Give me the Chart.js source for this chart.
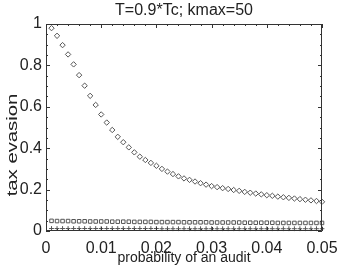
<!DOCTYPE html>
<html>
<head>
<meta charset="utf-8">
<script src="https://cdn.jsdelivr.net/npm/chart.js@4.4.1/dist/chart.umd.min.js"></script>
<style>
  html, body { margin: 0; padding: 0; background: #fff; }
  canvas { display: block; }
</style>
</head>
<body>
<canvas id="grafico" width="354" height="267"></canvas>
<script>
// probability of an audit (x)
const audit = [0.001, 0.002, 0.003, 0.004, 0.005, 0.006, 0.007, 0.008, 0.009, 0.010,
               0.011, 0.012, 0.013, 0.014, 0.015, 0.016, 0.017, 0.018, 0.019, 0.020,
               0.021, 0.022, 0.023, 0.024, 0.025, 0.026, 0.027, 0.028, 0.029, 0.030,
               0.031, 0.032, 0.033, 0.034, 0.035, 0.036, 0.037, 0.038, 0.039, 0.040,
               0.041, 0.042, 0.043, 0.044, 0.045, 0.046, 0.047, 0.048, 0.049, 0.050];

// tax evasion, diamonds
const evasionRombos = [0.980, 0.943, 0.898, 0.853, 0.805, 0.753, 0.702, 0.653, 0.609, 0.563,
                       0.524, 0.488, 0.455, 0.429, 0.404, 0.380, 0.359, 0.343, 0.329, 0.315,
                       0.300, 0.287, 0.275, 0.264, 0.254, 0.247, 0.239, 0.231, 0.224, 0.217,
                       0.212, 0.207, 0.203, 0.198, 0.194, 0.189, 0.185, 0.181, 0.177, 0.173,
                       0.170, 0.166, 0.163, 0.160, 0.157, 0.154, 0.151, 0.148, 0.145, 0.141];

// tax evasion, squares
const evasionCuadros = [0.049, 0.048, 0.048, 0.048, 0.047, 0.047, 0.047, 0.046, 0.046, 0.046,
                        0.046, 0.045, 0.045, 0.045, 0.045, 0.044, 0.044, 0.044, 0.044, 0.043,
                        0.043, 0.043, 0.043, 0.043, 0.042, 0.042, 0.042, 0.042, 0.042, 0.041,
                        0.041, 0.041, 0.041, 0.041, 0.041, 0.040, 0.040, 0.040, 0.040, 0.040,
                        0.040, 0.039, 0.039, 0.039, 0.039, 0.039, 0.039, 0.039, 0.039, 0.039];

// tax evasion, pluses
const evasionCruces = [0.012, 0.012, 0.012, 0.012, 0.012, 0.012, 0.012, 0.012, 0.012, 0.012,
                       0.012, 0.012, 0.012, 0.012, 0.012, 0.012, 0.012, 0.012, 0.012, 0.012,
                       0.011, 0.011, 0.011, 0.011, 0.011, 0.011, 0.011, 0.011, 0.011, 0.011,
                       0.011, 0.011, 0.011, 0.011, 0.011, 0.011, 0.011, 0.011, 0.011, 0.011,
                       0.011, 0.011, 0.011, 0.011, 0.011, 0.011, 0.011, 0.011, 0.011, 0.011];

const xTicks = [0, 0.01, 0.02, 0.03, 0.04, 0.05];
const yTicks = [0, 0.2, 0.4, 0.6, 0.8, 1];

const titulo = "T=0.9*Tc; kmax=50";
const tituloX = "probability of an audit";
const tituloY = "tax evasion";

const fuente = '"Liberation Sans", Arial, Helvetica, sans-serif';
const tinta = "#222";
const marca = "#555";

const puntos = (ys) => audit.map((x, i) => ({ x: x, y: ys[i] }));

// Marco con marcas hacia dentro y titulo del eje y
const marcoPlugin = {
    id: "marco",
    afterDraw(chart) {
        const ctx = chart.ctx;
        const a = chart.chartArea;
        const sx = chart.scales.x;
        const sy = chart.scales.y;
        ctx.save();
        ctx.strokeStyle = "#333";
        ctx.lineWidth = 1;
        ctx.beginPath();
        ctx.rect(a.left + 0.5, a.top + 0.5, a.right - a.left - 1, a.bottom - a.top - 1);
        ctx.stroke();

        ctx.beginPath();
        for (let i = 0; i <= 25; i++) {
            const px = Math.round(sx.getPixelForValue(i * 0.002)) + 0.5;
            const len = (i % 5 === 0) ? 4 : 2;
            ctx.moveTo(px, a.bottom);
            ctx.lineTo(px, a.bottom - len);
            ctx.moveTo(px, a.top);
            ctx.lineTo(px, a.top + len);
        }
        for (let i = 0; i <= 20; i++) {
            const py = Math.round(sy.getPixelForValue(i * 0.05)) + 0.5;
            const len = (i % 4 === 0) ? 4 : 2;
            ctx.moveTo(a.left, py);
            ctx.lineTo(a.left + len, py);
            ctx.moveTo(a.right, py);
            ctx.lineTo(a.right - len, py);
        }
        ctx.stroke();

        // el titulo del eje y del original sale estirado a lo largo
        ctx.fillStyle = tinta;
        ctx.textAlign = "center";
        ctx.textBaseline = "middle";
        ctx.translate(13, 145);
        ctx.rotate(-Math.PI / 2);
        ctx.scale(1.45, 1);
        ctx.font = "14px " + fuente;
        ctx.fillText(tituloY, 0, 0);
        ctx.restore();
    }
};

const comun = {
    showLine: false,
    backgroundColor: "rgba(0,0,0,0)",
    borderColor: marca,
    pointBorderWidth: 1,
    pointHoverRadius: 0,
    clip: false
};

new Chart(document.getElementById("grafico").getContext("2d"), {
    type: "scatter",
    data: {
        datasets: [
            Object.assign({ label: "rombos", data: puntos(evasionRombos), pointStyle: "rectRot", pointRadius: 2.7 }, comun),
            Object.assign({ label: "cuadros", data: puntos(evasionCuadros), pointStyle: "rect", pointRadius: 2.5 }, comun),
            Object.assign({ label: "cruces", data: puntos(evasionCruces), pointStyle: "cross", pointRadius: 2.4 }, comun)
        ]
    },
    options: {
        responsive: false,
        devicePixelRatio: 1,
        animation: false,
        events: [],
        layout: { padding: { left: 0, right: 32, top: 0, bottom: 0 } },
        plugins: {
            legend: { display: false },
            title: {
                display: true,
                text: titulo,
                fullSize: false,
                color: tinta,
                font: { family: fuente, size: 16, weight: "normal", lineHeight: 1.2 },
                padding: { top: 1, bottom: 3.8 }
            },
            tooltip: { enabled: false }
        },
        scales: {
            x: {
                type: "linear",
                min: 0,
                max: 0.05,
                afterBuildTicks: (s) => { s.ticks = xTicks.map(v => ({ value: v })); },
                afterFit: (s) => { s.height = 36; },
                grid: { display: false, drawTicks: false },
                border: { display: false },
                ticks: {
                    autoSkip: false,
                    maxRotation: 0,
                    padding: 8,
                    color: tinta,
                    font: { family: fuente, size: 16 },
                    callback: (v) => String(Math.round(v * 100) / 100)
                },
                title: {
                    display: true,
                    text: tituloX,
                    color: tinta,
                    font: { family: fuente, size: 14 },
                    padding: { top: -2, bottom: 0 }
                }
            },
            y: {
                type: "linear",
                min: 0,
                max: 1,
                afterBuildTicks: (s) => { s.ticks = yTicks.map(v => ({ value: v })); },
                afterFit: (s) => { s.width = 46; },
                grid: { display: false, drawTicks: false },
                border: { display: false },
                ticks: {
                    autoSkip: false,
                    padding: 4,
                    color: tinta,
                    font: { family: fuente, size: 16 },
                    callback: (v) => String(Math.round(v * 10) / 10)
                }
            }
        }
    },
    plugins: [marcoPlugin]
});
</script>
</body>
</html>
